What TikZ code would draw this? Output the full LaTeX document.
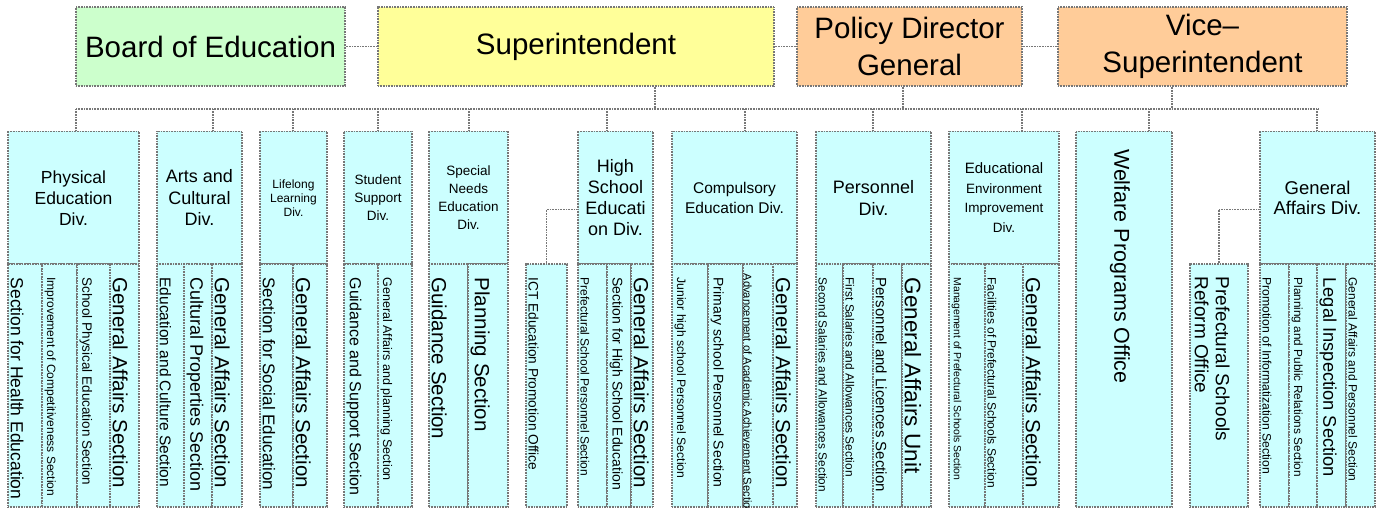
\documentclass[tikz,border=0pt]{standalone}
\usepackage{fontspec}
\setmainfont{Liberation Sans}
\usetikzlibrary{fit}
\definecolor{boardgreen}{HTML}{CCFFCC}
\definecolor{superyellow}{HTML}{FFFF99}
\definecolor{viceorange}{HTML}{FFCC99}
\definecolor{divcyan}{HTML}{CCFFFF}
\definecolor{rulegray}{HTML}{777777}
\newcommand{\fsz}[2]{\fontsize{#1pt}{#2pt}\selectfont}
\begin{document}
\begin{tikzpicture}[x=1pt, y=-1pt,
  rule/.style={draw=rulegray, line width=1.2pt, dash pattern=on 1pt off 0.6pt},
  topbox/.style={rule, align=center, inner sep=0pt, minimum height=79pt, font=\fsz{29.5}{37}},
  head/.style={rule, fill=divcyan, align=center, inner sep=0pt, minimum height=132.5pt},
  cell/.style={rule, fill=divcyan, inner sep=0pt},
  sect/.style={rotate=-90, anchor=south west, inner sep=0pt, align=left}]
\useasboundingbox (0,0) rectangle (1381,510);

% top row
\node [topbox, fill=boardgreen, minimum width=269pt] (board) at (210.5,46.5) {Board of Education};
\node [topbox, fill=superyellow, minimum width=396pt] (super) at (576,46.5) {Superintendent};
\node [topbox, fill=viceorange, minimum width=225pt] (policy) at (909.5,46.5) {Policy Director\\General};
\node [topbox, fill=viceorange, minimum width=289pt] (vice) at (1202.5,46.5) {Vice–\\Superintendent};
\draw [rule] (board) -- (super);
\draw [rule] (super) -- (policy);
\draw [rule] (policy) -- (vice);

% bus
\coordinate (busL) at (76,109);
\coordinate (busR) at (1318,109);
\draw [rule] (busL) -- (busR);
\foreach \n/\x in {super/655, policy/903, vice/1172}
  \draw [rule] (\x,0 |- \n.south) -- (\x,0 |- busL);

% divisions
\node [head, font=\fsz{17.5}{21}, minimum width=131pt] (phys) at (73.5,197.75) {Physical\\Education\\Div.};
\node [head, font=\fsz{18}{21.5}, minimum width=85pt] (arts) at (199.5,197.75) {Arts and\\Cultural\\Div.};
\node [head, font=\fsz{12}{14}, minimum width=67pt] (life) at (293.5,197.75) {Lifelong\\Learning\\Div.};
\node [head, font=\fsz{13.5}{18}, minimum width=68pt] (stud) at (378,197.75) {Student\\Support\\Div.};
\node [head, font=\fsz{13.5}{18}, minimum width=79pt] (spec) at (468.5,197.75) {Special\\Needs\\Education\\Div.};
\node [head, font=\fsz{18}{21}, minimum width=75pt] (high) at (615.5,197.75) {High\\School\\Educati\\on Div.};
\node [head, font=\fsz{15.5}{20}, minimum width=125pt] (comp) at (734.5,197.75) {Compulsory\\Education Div.};
\node [head, font=\fsz{18}{21.5}, minimum width=115pt] (pers) at (873.5,197.75) {Personnel\\Div.};
\node [head, font=\fsz{13.5}{19.5}, minimum width=110pt] (envi) at (1004,197.75) {{\fsz{15}{19.5}Educational}\\Environment\\Improvement\\Div.};
\node [head, fit={(1076,131.5) (1172,507)}] (welf) {};
\node [head, font=\fsz{18.5}{20}, minimum width=115pt] (gene) at (1317.5,197.75) {General\\Affairs Div.};
\node [rotate=-90, anchor=west, inner sep=0pt, font=\fsz{21.5}{21.5}] (welf-t) at ([xshift=-4pt,yshift=-18pt]welf.north) {Welfare Programs Office};

\foreach \n/\x in {phys/76, arts/213, life/293, stud/378, spec/469, high/607,
                   comp/745, pers/873, envi/1022, welf/1149, gene/1317}
  \draw [rule] (\x,0 |- \n.north) -- (\x,0 |- busL);

% offices hanging off a division
\node [cell, fit={(526,264) (567,507)}] (ict) {};
\node [sect, font=\fsz{13.7}{13.7}] (ict-t) at ([xshift=3pt,yshift=-14pt]ict.north west) {ICT Education Promotion Office};
\node [cell, fit={(1190,264) (1248,507)}] (pref) {};
\node [sect, font=\fsz{19}{21}] (pref-t) at ([xshift=5pt,yshift=-13pt]pref.north west) {Prefectural Schools\\Reform Office};
\draw [rule] (ict.north) |- ([yshift=-11.5pt]high.west);
\draw [rule] (pref.north) |- ([yshift=-11.5pt]gene.west);

% sections
\foreach \n/\l/\r/\fs/\txt in {
    phys/8/42/17.5/Section for Health Education,
    phys/42/77/12/Improvement of Competitiveness Section,
    phys/77/110/13.5/School Physical Education Section,
    phys/110/139/20.5/General Affairs Section,
    arts/157/184/15.5/Education and Culture Section,
    arts/184/212/18/Cultural Properties Section,
    arts/212/242/20.5/General Affairs Section,
    life/260/293/17/Section for Social Education,
    life/293/327/20.5/General Affairs Section,
    stud/344/378/16/Guidance and Support Section,
    stud/378/412/12.5/General Affairs and planning Section,
    spec/429/468/20.5/Guidance Section,
    spec/468/508/20.5/Planning Section,
    high/578/607/12/Prefectural School Personnel Section,
    high/607/631/14/Section for High School Education,
    high/631/653/20.5/General Affairs Section,
    comp/672/708/12.2/Junior high school Personnel Section,
    comp/708/743/14/Primary school Personnel Section,
    comp/773/797/20.5/General Affairs Section,
    pers/816/843/11.8/Second Salaries and Allowances Section,
    pers/843/873/11.9/First Salaries and Allowances Section,
    pers/873/902/15/Personnel and Licences Section,
    pers/902/931/22.5/General Affairs Unit,
    envi/949/985/10.4/Management of Prefectural Schools Section,
    envi/985/1023/12/Facilities of Prefectural Schools Section,
    envi/1023/1059/20.5/General Affairs Section,
    gene/1260/1289/12.2/Promotion of Informatization Section,
    gene/1289/1317/11.8/Planning and Public Relations Section,
    gene/1317/1346/18.3/Legal Inspection Section,
    gene/1346/1375/12/General Affairs and Personnel Section} {
  \node [cell, fit={(\l,264) (\r,507)}] (\n-\l) {};
  \node [sect, font=\fsz{\fs}{\fs}] (\n-\l-t) at ([xshift=3pt,yshift=-14pt]\n-\l.north west) {\txt};
}

% this one runs past its cell
\node [cell, fit={(743,264) (773,507)}] (comp-743) {};
\begin{scope}
\clip (comp-743.north west) rectangle (comp-743.south east);
\node [sect, font=\fsz{11.2}{11.2}] (comp-743-t) at ([xshift=1pt,yshift=-10pt]comp-743.north west) {Advancement of Academic Achievement Section};
\end{scope}
\end{tikzpicture}
\end{document}
